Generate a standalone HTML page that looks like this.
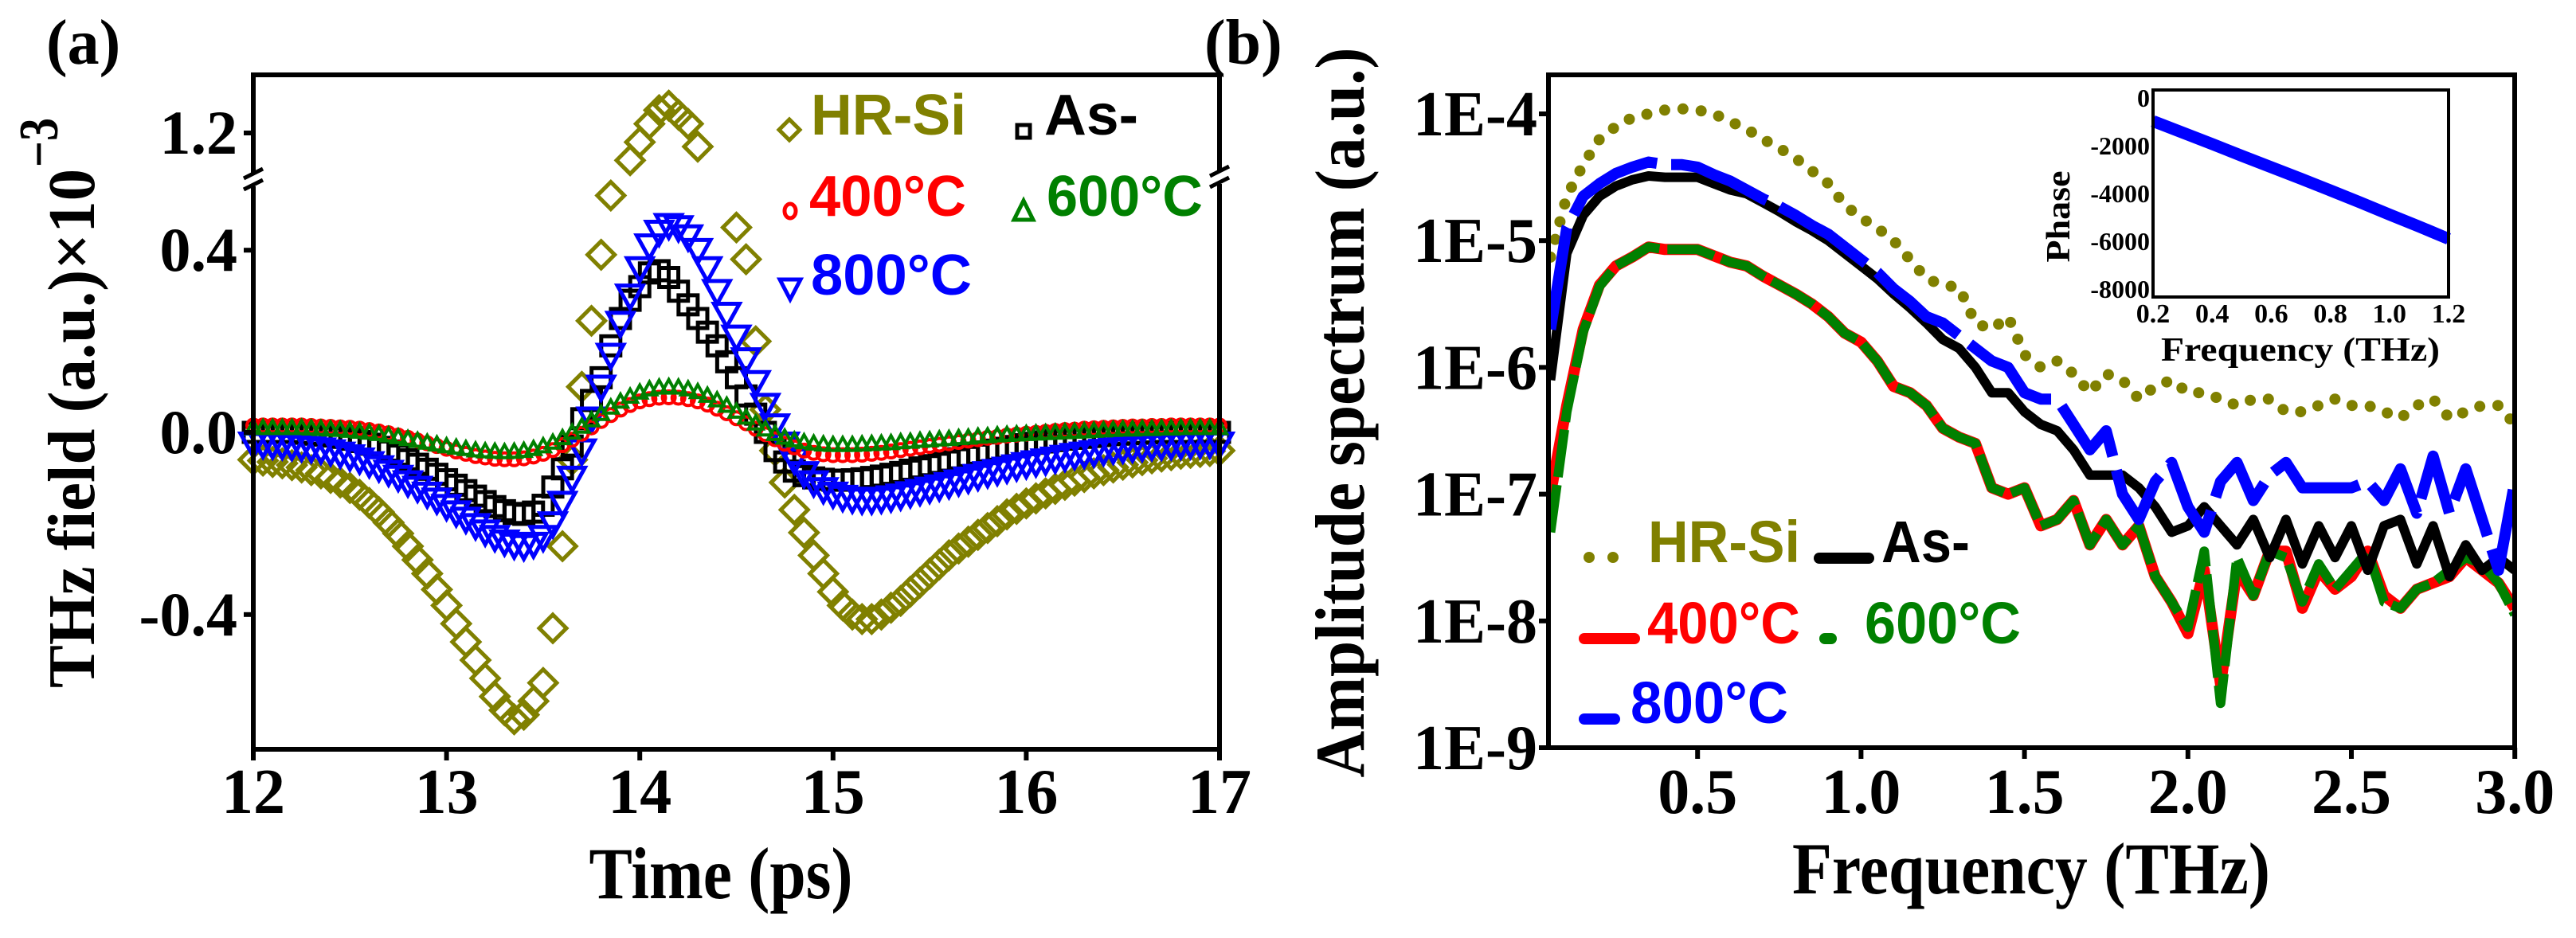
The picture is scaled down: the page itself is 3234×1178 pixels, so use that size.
<!DOCTYPE html>
<html><head><meta charset="utf-8"><style>
html,body{margin:0;padding:0;background:#fff;}
svg{display:block;}
.tk{font-family:"Liberation Serif",serif;font-weight:bold;fill:#000;}
.lg{font-family:"Liberation Sans",sans-serif;font-weight:bold;}
</style></head><body>
<svg id="fig" xmlns="http://www.w3.org/2000/svg" width="3234" height="1178" viewBox="0 0 3234 1178">
<rect x="0" y="0" width="3234" height="1178" fill="#fff"/>
<g id="pa"></g>
<g id="pb"></g>
</svg>
<script>
// ---------- Panel (a) data (x1e-3) ----------
const timeStart = 12.0;
const timeStep = 0.05;
const hrsiField = [-0.06,-0.062,-0.065,-0.068,-0.072,-0.077,-0.083,-0.09,-0.1,-0.11,-0.122,-0.137,-0.155,
 -0.175,-0.198,-0.222,-0.25,-0.28,-0.31,-0.345,-0.38,
 -0.42,-0.46,-0.5,-0.54,-0.58,-0.61,-0.63,-0.62,-0.59,-0.55,
 -0.43,-0.25,-0.06,0.1,0.245,0.39,0.52,0.85,1.14,1.18,
 1.22,1.25,1.26,1.24,1.22,1.17,1.05,0.85,0.6,0.45,
 0.38,0.2,0.05,-0.04,-0.11,-0.17,-0.22,-0.27,-0.31,-0.35,
 -0.38,-0.4,-0.41,-0.41,-0.4,-0.385,-0.37,-0.35,-0.33,-0.31,
 -0.29,-0.27,-0.255,-0.24,-0.225,-0.21,-0.195,-0.18,-0.168,-0.156,
 -0.145,-0.134,-0.124,-0.115,-0.106,-0.098,-0.09,-0.083,-0.077,-0.071,
 -0.066,-0.061,-0.057,-0.053,-0.05,-0.047,-0.045,-0.043,-0.041,-0.04];
const asField = [0,0,0,0,0,-0.002,-0.004,-0.006,-0.008,-0.011,-0.015,-0.02,-0.026,
 -0.033,-0.041,-0.05,-0.06,-0.07,-0.081,-0.092,-0.104,
 -0.116,-0.128,-0.14,-0.152,-0.163,-0.172,-0.178,-0.18,-0.175,-0.16,
 -0.12,-0.08,-0.03,0.03,0.07,0.12,0.19,0.25,0.29,0.32,
 0.35,0.355,0.34,0.31,0.28,0.25,0.22,0.19,0.155,0.12,
 0.08,0.04,0.0,-0.04,-0.065,-0.085,-0.095,-0.1,-0.103,-0.105,
 -0.105,-0.104,-0.102,-0.099,-0.096,-0.092,-0.088,-0.083,-0.078,-0.073,
 -0.068,-0.063,-0.058,-0.053,-0.048,-0.043,-0.039,-0.035,-0.031,-0.027,
 -0.024,-0.021,-0.018,-0.015,-0.013,-0.011,-0.009,-0.007,-0.005,-0.004,
 -0.003,-0.002,-0.001,0,0,0,0,0,0,0];
const c800Field = [-0.025,-0.026,-0.027,-0.028,-0.03,-0.032,-0.035,-0.038,-0.042,-0.047,-0.053,-0.06,-0.068,
 -0.077,-0.087,-0.098,-0.11,-0.122,-0.135,-0.148,-0.162,
 -0.176,-0.19,-0.204,-0.218,-0.23,-0.24,-0.247,-0.25,-0.245,-0.23,
 -0.2,-0.155,-0.1,-0.04,0.03,0.1,0.17,0.24,0.3,0.36,
 0.41,0.44,0.455,0.45,0.43,0.4,0.36,0.31,0.26,0.21,
 0.16,0.11,0.06,0.015,-0.025,-0.06,-0.09,-0.11,-0.125,-0.135,
 -0.142,-0.146,-0.148,-0.148,-0.146,-0.143,-0.139,-0.134,-0.129,-0.124,
 -0.119,-0.114,-0.108,-0.102,-0.096,-0.09,-0.085,-0.08,-0.075,-0.07,
 -0.066,-0.062,-0.058,-0.054,-0.05,-0.047,-0.044,-0.041,-0.038,-0.036,
 -0.034,-0.032,-0.03,-0.029,-0.028,-0.027,-0.026,-0.025,-0.025,-0.025];
const c400Field = [0.015,0.015,0.015,0.015,0.015,0.015,0.014,0.013,0.012,0.011,0.01,0.008,0.005,
 0.002,-0.002,-0.007,-0.012,-0.018,-0.024,-0.03,-0.036,
 -0.042,-0.047,-0.052,-0.055,-0.058,-0.059,-0.059,-0.057,-0.053,-0.047,
 -0.039,-0.028,-0.016,-0.003,0.011,0.025,0.038,0.05,0.06,0.068,
 0.073,0.076,0.077,0.076,0.073,0.068,0.061,0.052,0.042,0.031,
 0.02,0.008,-0.004,-0.015,-0.025,-0.033,-0.04,-0.045,-0.048,-0.05,
 -0.05,-0.05,-0.049,-0.047,-0.045,-0.042,-0.039,-0.036,-0.033,-0.03,
 -0.027,-0.024,-0.021,-0.018,-0.015,-0.012,-0.01,-0.007,-0.005,-0.003,
 -0.001,0.001,0.003,0.005,0.006,0.008,0.009,0.01,0.011,0.012,
 0.013,0.013,0.014,0.014,0.015,0.015,0.015,0.015,0.015,0.015];
const c600Field = [0.01,0.01,0.01,0.01,0.01,0.01,0.009,0.008,0.007,0.006,0.004,0.002,0.0,
 -0.003,-0.006,-0.01,-0.014,-0.018,-0.022,-0.026,-0.03,
 -0.033,-0.036,-0.039,-0.041,-0.042,-0.043,-0.042,-0.04,-0.036,-0.03,
 -0.022,-0.012,0.0,0.013,0.027,0.041,0.055,0.068,0.079,0.088,
 0.095,0.099,0.1,0.099,0.095,0.089,0.081,0.071,0.059,0.046,
 0.033,0.02,0.007,-0.003,-0.011,-0.017,-0.021,-0.024,-0.026,-0.027,
 -0.027,-0.027,-0.026,-0.025,-0.024,-0.023,-0.021,-0.02,-0.018,-0.017,
 -0.015,-0.014,-0.012,-0.011,-0.009,-0.008,-0.006,-0.005,-0.004,-0.003,
 -0.002,-0.001,0,0.001,0.002,0.003,0.004,0.005,0.006,0.007,
 0.007,0.008,0.008,0.009,0.009,0.01,0.01,0.01,0.01,0.01];
const timeTicks = [12,13,14,15,16,17];
const fieldTicks = [-0.4,0.0,0.4,1.2];
const fieldTickLabels = ["-0.4","0.0","0.4","1.2"];

// ---------- Panel (b) data (log10 amplitude) ----------
const freqStart = 0.05;
const freqStep = 0.05;
const hrsiAmp = [-5.13,-4.65,-4.4,-4.2,-4.1,-4.03,-4.0,-3.97,-3.96,-3.97,-4.0,-4.06,-4.12,-4.2,-4.27,-4.35,-4.45,-4.55,-4.72,-4.82,
 -4.9,-5.0,-5.15,-5.3,-5.35,-5.37,-5.65,-5.7,-5.6,-5.9,-6.0,-5.95,-6.05,-6.2,-6.05,-6.1,-6.25,-6.15,-6.1,-6.2,
 -6.2,-6.25,-6.3,-6.25,-6.25,-6.35,-6.35,-6.3,-6.25,-6.3,-6.3,-6.35,-6.4,-6.3,-6.25,-6.4,-6.35,-6.3,-6.3,-6.45];
const asAmp = [-6.1,-5.1,-4.8,-4.65,-4.57,-4.52,-4.49,-4.5,-4.5,-4.5,-4.55,-4.6,-4.63,-4.7,-4.77,-4.85,-4.92,-5.0,-5.1,-5.2,
 -5.3,-5.42,-5.53,-5.65,-5.78,-5.85,-6.0,-6.2,-6.2,-6.35,-6.45,-6.5,-6.65,-6.85,-6.85,-6.85,-6.95,-7.1,-7.3,-7.25,
 -7.1,-7.25,-7.4,-7.2,-7.5,-7.2,-7.55,-7.25,-7.5,-7.25,-7.6,-7.25,-7.2,-7.55,-7.25,-7.65,-7.4,-7.6,-7.5,-7.6];
const c800Amp = [-5.7,-4.9,-4.65,-4.55,-4.47,-4.42,-4.38,-4.4,-4.4,-4.42,-4.48,-4.53,-4.6,-4.67,-4.73,-4.8,-4.88,-4.95,-5.05,-5.15,
 -5.25,-5.38,-5.48,-5.6,-5.65,-5.75,-5.85,-5.95,-6.0,-6.2,-6.25,-6.25,-6.45,-6.65,-6.5,-7.0,-7.2,-6.9,-6.75,-7.1,
 -7.3,-6.9,-6.75,-7.05,-6.85,-6.75,-6.95,-6.95,-6.95,-6.95,-6.9,-7.05,-6.8,-7.15,-6.7,-7.15,-6.8,-7.2,-7.6,-6.9];
const c400Amp = [-7.0,-6.3,-5.7,-5.35,-5.2,-5.13,-5.05,-5.07,-5.07,-5.07,-5.12,-5.17,-5.2,-5.28,-5.35,-5.42,-5.5,-5.6,-5.73,-5.8,
 -5.95,-6.15,-6.2,-6.3,-6.48,-6.55,-6.6,-6.95,-7.0,-6.95,-7.25,-7.2,-7.05,-7.4,-7.2,-7.4,-7.25,-7.65,-7.85,-8.1,
 -7.6,-8.5,-7.6,-7.8,-7.45,-7.45,-7.9,-7.6,-7.75,-7.65,-7.45,-7.8,-7.9,-7.75,-7.7,-7.65,-7.5,-7.6,-7.7,-7.9];
const c600Amp = [-7.3,-6.35,-5.72,-5.36,-5.2,-5.13,-5.05,-5.07,-5.07,-5.07,-5.12,-5.17,-5.2,-5.28,-5.35,-5.42,-5.5,-5.6,-5.73,-5.8,
 -5.95,-6.15,-6.2,-6.3,-6.48,-6.55,-6.6,-6.95,-7.0,-6.95,-7.25,-7.2,-7.05,-7.4,-7.2,-7.4,-7.25,-7.65,-7.85,-8.05,
 -7.45,-8.65,-7.5,-7.8,-7.45,-7.5,-7.85,-7.55,-7.75,-7.6,-7.45,-7.85,-7.9,-7.75,-7.7,-7.6,-7.5,-7.55,-7.7,-7.95];
const freqTicks = [0.5,1.0,1.5,2.0,2.5,3.0];
const freqTickLabels = ["0.5","1.0","1.5","2.0","2.5","3.0"];
const ampTicks = [-4,-5,-6,-7,-8,-9];
const ampTickLabels = ["1E-4","1E-5","1E-6","1E-7","1E-8","1E-9"];

// ---------- Inset data ----------
const phaseFreq = [0.2,0.3,0.4,0.5,0.6,0.7,0.8,0.9,1.0,1.1,1.2];
const phaseVals = [-970,-1450,-1930,-2420,-2900,-3380,-3870,-4370,-4880,-5380,-5900];
const phaseTicks = [0,-2000,-4000,-6000,-8000];
const phaseTickLabels = ["0","-2000","-4000","-6000","-8000"];
const insetFreqTicks = [0.2,0.4,0.6,0.8,1.0,1.2];
const insetFreqLabels = ["0.2","0.4","0.6","0.8","1.0","1.2"];

const NS = "http://www.w3.org/2000/svg";
function mk(parent, tag, attrs, text){
  const e = document.createElementNS(NS, tag);
  for (const k in attrs) e.setAttribute(k, attrs[k]);
  if (text !== undefined) e.textContent = text;
  parent.appendChild(e);
  return e;
}
const pa = document.getElementById('pa');
const pb = document.getElementById('pb');

// ===== Panel (a) axes =====
const AX0 = 318, AX1 = 1531, AY0 = 94, AY1 = 941;
function xa(t){ return AX0 + (t - 12) * (AX1 - AX0) / 5; }
function ya(v){
  if (v >= 1.097) return 167 - (v - 1.2) * 572;
  if (v <= 0.554) return 543 - v * 572;
  return null;
}
// plot series
function drawMarkers(arr, name, color, shape, sz){
  const g = mk(pa, 'g', {});
  
  
  arr.forEach((v, i) => {
    const t = timeStart + i * timeStep;
    const x = xa(t), y = ya(v);
    if (y === null) return;
    let m;
    if (shape === 'diamond') m = mk(g, 'path', {d:`M${x} ${y-sz}L${x+sz} ${y}L${x} ${y+sz}L${x-sz} ${y}Z`, fill:'none', stroke:color, 'stroke-width':5});
    else if (shape === 'square') m = mk(g, 'rect', {x:x-sz, y:y-sz, width:2*sz, height:2*sz, fill:'none', stroke:color, 'stroke-width':5});
    else if (shape === 'down') m = mk(g, 'path', {d:`M${x-sz} ${y-sz*0.8}L${x+sz} ${y-sz*0.8}L${x} ${y+sz}Z`, fill:'none', stroke:color, 'stroke-width':5});
    else if (shape === 'up') m = mk(g, 'path', {d:`M${x-sz} ${y+sz*0.8}L${x+sz} ${y+sz*0.8}L${x} ${y-sz}Z`, fill:'none', stroke:color, 'stroke-width':4});
    else m = mk(g, 'circle', {cx:x, cy:y, r:sz, fill:'none', stroke:color, 'stroke-width':4});
    
    
  });
}
drawMarkers(hrsiField, 'series-hr-si', '#808000', 'diamond', 17);
drawMarkers(asField, 'series-as', '#000', 'square', 12);
drawMarkers(c800Field, 'series-800c', '#0000ff', 'down', 16);
drawMarkers(c400Field, 'series-400c', '#ff0000', 'circle', 8);
drawMarkers(c600Field, 'series-600c', '#008000', 'up', 9);

// frame
const fa = mk(pa, 'path', {d:`M${AX0} ${AY0}H${AX1}V${AY1}H${AX0}Z`, fill:'none', stroke:'#000', 'stroke-width':6});


// axis break
[[AX0,226],[AX1,223]].forEach(([bx,by]) => {
  mk(pa, 'rect', {x:bx-10, y:by-8, width:20, height:16, fill:'#fff'});
  const b1 = mk(pa, 'path', {d:`M${bx-12} ${by-2}L${bx+12} ${by-14}M${bx-12} ${by+12}L${bx+12} ${by}`, stroke:'#000', 'stroke-width':5});
  
  
});
// ticks
timeTicks.forEach(t => {
  mk(pa, 'line', {x1:xa(t), x2:xa(t), y1:AY1, y2:AY1+14, stroke:'#000', 'stroke-width':6});
  const l = mk(pa, 'text', {x:xa(t), y:1021, 'text-anchor':'middle', 'font-size':80, class:'tk'}, String(t));
  
  
});
fieldTicks.forEach((v, i) => {
  const y = ya(v);
  mk(pa, 'line', {x1:AX0-12, x2:AX0, y1:y, y2:y, stroke:'#000', 'stroke-width':6});
  const l = mk(pa, 'text', {x:298, y:y+26, 'text-anchor':'end', 'font-size':78, class:'tk'}, fieldTickLabels[i]);
  
  
});
</script>
<script>
// static labels panel a
(function(){
  const pa = document.getElementById('pa');
  const NS = "http://www.w3.org/2000/svg";
  function t(attrs, txt){ const e=document.createElementNS(NS,'text'); for(const k in attrs) e.setAttribute(k,attrs[k]); e.textContent=txt; pa.appendChild(e); return e; }
  let e = t({x:58, y:80, 'font-size':80, class:'tk'}, '(a)');
  
  
  e = t({x:905, y:1128, 'text-anchor':'middle', 'font-size':92, class:'tk', textLength:331, lengthAdjust:'spacingAndGlyphs'}, 'Time (ps)');
  
  
  e = t({x:-864, y:118, transform:'rotate(-90)', 'font-size':84, class:'tk', textLength:652, lengthAdjust:'spacingAndGlyphs'}, 'THz field (a.u.)×10');
  
  
  e = t({x:-210, y:72, transform:'rotate(-90)', 'font-size':70, class:'tk', textLength:62, lengthAdjust:'spacingAndGlyphs'}, '−3');
  
  
  // legend
  const items = [
    ['HR-Si','#808000',1018,169,195,'diamond',991,163],
    ['As-','#000',1311,169,118,'square',1285,165],
    ['400°C','#ff0000',1016,271,197,'circle',992,265],
    ['600°C','#008000',1314,271,196,'up',1285,265],
    ['800°C','#0000ff',1018,370,202,'down',992,362]
  ];
  items.forEach(it => {
    const [lab,col,x,y,w,shape,mx,my] = it;
    const g = document.createElementNS(NS,'g'); pa.appendChild(g);
    
    
    let m = document.createElementNS(NS,'path');
    let d;
    if (shape==='diamond') d=`M${mx} ${my-13}L${mx+13} ${my}L${mx} ${my+13}L${mx-13} ${my}Z`;
    else if (shape==='square') d=`M${mx-8} ${my-8}H${mx+8}V${my+8}H${mx-8}Z`;
    else if (shape==='circle') d=`M${mx-7} ${my}A7 9 0 1 0 ${mx+7} ${my}A7 9 0 1 0 ${mx-7} ${my}Z`;
    else if (shape==='up') d=`M${mx-12} ${my+11}H${mx+12}L${mx} ${my-13}Z`;
    else d=`M${mx-13} ${my-11}H${mx+13}L${mx} ${my+14}Z`;
    m.setAttribute('d', d); m.setAttribute('fill','none'); m.setAttribute('stroke',col); m.setAttribute('stroke-width',5);
    g.appendChild(m);
    const tx = document.createElementNS(NS,'text');
    tx.setAttribute('x',x); tx.setAttribute('y',y); tx.setAttribute('font-size',72);
    tx.setAttribute('class','lg'); tx.setAttribute('fill',col);
    tx.setAttribute('textLength',w); tx.setAttribute('lengthAdjust','spacingAndGlyphs');
    tx.textContent = lab; g.appendChild(tx);
  });
})();
</script>
<script>
// ===== Panel (b) =====
(function(){
  const BX0 = 1944, BX1 = 3157, BY0 = 94, BY1 = 939;
  function xb(f){ return 1926 + f * 410.4; }
  function yb(l){ return 143 + (-4 - l) * 159.2; }
  const cp = mk(pb, 'clipPath', {id:'clipb'});
  mk(cp, 'rect', {x:BX0, y:BY0, width:BX1-BX0, height:BY1-BY0});
  function drawLine(arr, name, color, width, dash, cap){
    const pts = arr.map((v,i) => `${xb(freqStart + i*freqStep).toFixed(1)},${yb(v).toFixed(1)}`).join(' ');
    const attrs = {points:pts, fill:'none', stroke:color, 'stroke-width':width, 'stroke-linejoin':'round', 'stroke-linecap':cap, 'clip-path':'url(#clipb)'};
    if (dash) attrs['stroke-dasharray'] = dash;
    const p = mk(pb, 'polyline', attrs);
    
    
  }
  drawLine(hrsiAmp, 'series-hr-si-line', '#808000', 14, '0 23', 'round');
  drawLine(c400Amp, 'series-400c-line', '#ff0000', 14, null, 'butt');
  drawLine(c600Amp, 'series-600c-line', '#008000', 12, '60 10', 'butt');
  drawLine(asAmp, 'series-as-line', '#000', 12, null, 'butt');
  drawLine(c800Amp, 'series-800c-line', '#0000ff', 14, '130 18', 'butt');

  const fb = mk(pb, 'path', {d:`M${BX0} ${BY0}H${BX1}V${BY1}H${BX0}Z`, fill:'none', stroke:'#000', 'stroke-width':6});
  
  
  freqTicks.forEach((f,i) => {
    mk(pb, 'line', {x1:xb(f), x2:xb(f), y1:BY1, y2:BY1+14, stroke:'#000', 'stroke-width':6});
    const l = mk(pb, 'text', {x:xb(f), y:1021, 'text-anchor':'middle', 'font-size':80, class:'tk'}, freqTickLabels[i]);
    
    
  });
  ampTicks.forEach((v,i) => {
    const y = yb(v);
    mk(pb, 'line', {x1:BX0-12, x2:BX0, y1:y, y2:y, stroke:'#000', 'stroke-width':6});
    const l = mk(pb, 'text', {x:1930, y:y+27, 'text-anchor':'end', 'font-size':80, class:'tk', textLength:156, lengthAdjust:'spacingAndGlyphs'}, ampTickLabels[i]);
    
    
  });
  let e = mk(pb, 'text', {x:1512, y:80, 'font-size':80, class:'tk'}, '(b)');
  
  
  e = mk(pb, 'text', {x:2550, y:1122, 'text-anchor':'middle', 'font-size':92, class:'tk', textLength:600, lengthAdjust:'spacingAndGlyphs'}, 'Frequency (THz)');
  
  
  e = mk(pb, 'text', {x:-518, y:1712, transform:'rotate(-90)', 'text-anchor':'middle', 'font-size':88, class:'tk', textLength:917, lengthAdjust:'spacingAndGlyphs'}, 'Amplitude spectrum (a.u.)');
  
  

  // legend b
  const leg = [
    ['HR-Si','#808000',2069,706,191,'dots',1989,2031,700],
    ['As-','#000',2362,706,111,'solid',2284,2346,701],
    ['400°C','#ff0000',2068,808,192,'solid',1989,2052,802],
    ['600°C','#008000',2341,808,196,'dot',2291,2299,802],
    ['800°C','#0000ff',2047,908,198,'solid',1989,2027,903]
  ];
  leg.forEach(it => {
    const [lab,col,x,y,w,sty,lx0,lx1,ly] = it;
    const g = mk(pb, 'g', {});
    
    
    if (sty==='dots') { mk(g,'circle',{cx:lx0+6,cy:ly,r:7,fill:col}); mk(g,'circle',{cx:lx1-6,cy:ly,r:7,fill:col}); }
    else mk(g,'line',{x1:lx0,x2:lx1,y1:ly,y2:ly,stroke:col,'stroke-width':14,'stroke-linecap':'round'});
    mk(g,'text',{x:x,y:y,'font-size':74,class:'lg',fill:col,textLength:w,lengthAdjust:'spacingAndGlyphs'},lab);
  });

  // inset
  const IX0=2703, IX1=3074, IY0=113, IY1=373;
  function xi(f){ return IX0 + (f-0.2)*(IX1-IX0); }
  function yi(p){ return 123 - p*0.03; }
  const ins = mk(pb, 'g', {});
  
  
  mk(ins, 'rect', {x:IX0, y:IY0, width:IX1-IX0, height:IY1-IY0, fill:'#fff'});
  const pl = mk(ins, 'polyline', {points: phaseVals.map((p,i)=>`${xi(phaseFreq[i]).toFixed(1)},${yi(p).toFixed(1)}`).join(' '), fill:'none', stroke:'#0000ff', 'stroke-width':15});
  
  
  mk(ins, 'rect', {x:IX0, y:IY0, width:IX1-IX0, height:IY1-IY0, fill:'none', stroke:'#000', 'stroke-width':4});
  phaseTicks.forEach((p,i) => {
    const l = mk(ins, 'text', {x:2699, y:yi(p)+11, 'text-anchor':'end', 'font-size':32, class:'tk'}, phaseTickLabels[i]);
    
    
  });
  insetFreqTicks.forEach((f,i) => {
    const l = mk(ins, 'text', {x:xi(f), y:405, 'text-anchor':'middle', 'font-size':34, class:'tk'}, insetFreqLabels[i]);
    
    
  });
  e = mk(ins, 'text', {x:2888, y:453, 'text-anchor':'middle', 'font-size':42, class:'tk', textLength:350, lengthAdjust:'spacingAndGlyphs'}, 'Frequency (THz)');
  
  
  e = mk(ins, 'text', {x:-272, y:2598, transform:'rotate(-90)', 'text-anchor':'middle', 'font-size':42, class:'tk', textLength:115, lengthAdjust:'spacingAndGlyphs'}, 'Phase');
  
  
})();
</script>
</body></html>
